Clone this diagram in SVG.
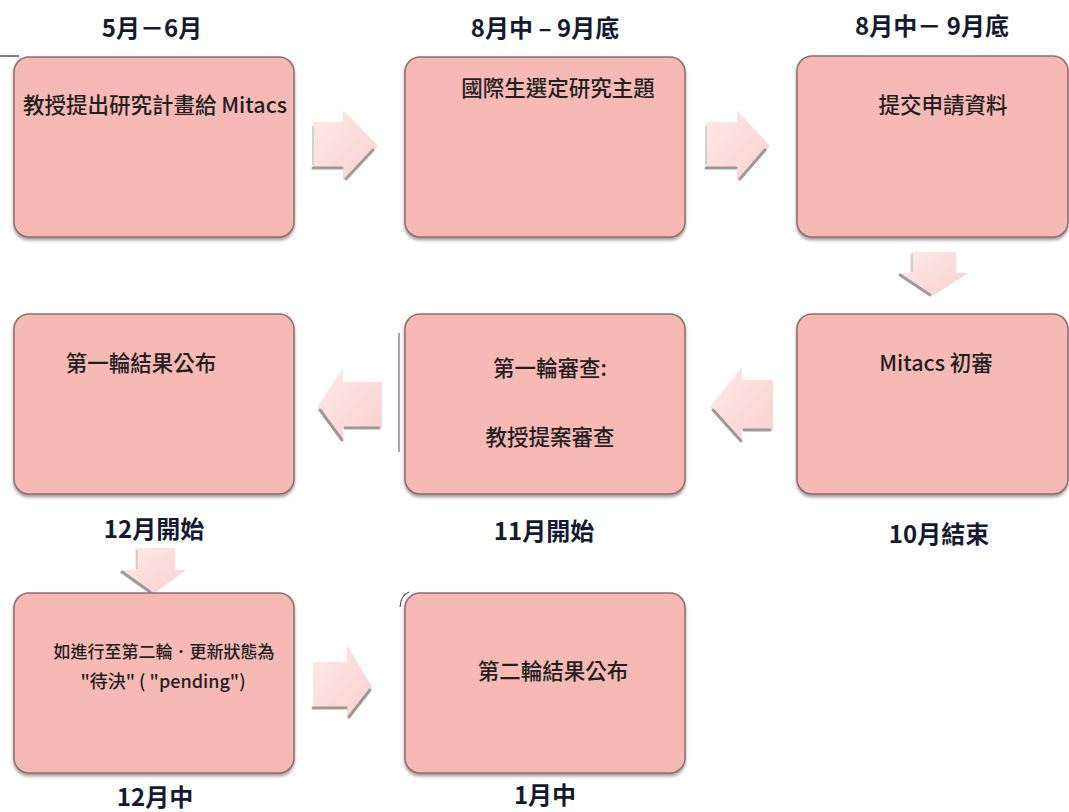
<svg xmlns="http://www.w3.org/2000/svg" width="1069" height="812" viewBox="0 0 1069 812">
<style>
.box{fill:#f7b9b5;stroke:#8a7070;stroke-width:1.5;filter:url(#sh)}
.t{font-family:"Noto Sans CJK TC","Noto Sans",sans-serif;font-size:21.5px;font-weight:500;fill:#231f1f;text-anchor:middle}
.lb{font-family:"Noto Sans CJK TC","Noto Sans",sans-serif;font-size:24px;font-weight:700;fill:#161a30;text-anchor:middle}
.ar{fill:url(#ag)}
.as{fill:none;stroke:#7d7d7d;stroke-width:3;stroke-linecap:round;opacity:.75}
.al{fill:none;stroke:#c8c8c8;stroke-width:2;opacity:.8}
</style>
<defs>
<filter id="sh" x="-5%" y="-5%" width="110%" height="115%">
<feDropShadow dx="0" dy="2.5" stdDeviation="1.5" flood-color="#5a4a4a" flood-opacity="0.55"/>
</filter>
<linearGradient id="ag" x1="0" y1="0" x2="1" y2="1">
<stop offset="0" stop-color="#fdeae8"/>
<stop offset="1" stop-color="#f9d0cd"/>
</linearGradient>
</defs>
<rect x="0" y="0" width="1069" height="812" fill="#ffffff"/>
<line x1="0" y1="56" x2="19" y2="56" stroke="#555" stroke-width="1.5"/>

<g id="connectors">
<g id="arrow-1-2">
<polygon class="ar" points="313,122 343,122 343,110 378,146 343,181 343,168 313,168"/>
<line class="al" x1="313" y1="126" x2="313" y2="165"/>
<polyline class="as" points="313,168 342,168"/>
<polyline class="as" points="346,179 373,150"/>
</g>
<g id="arrow-2-3">
<polygon class="ar" points="706,122 737,122 737,110 770,146 737,181 737,168 706,168"/>
<line class="al" x1="706" y1="126" x2="706" y2="165"/>
<polyline class="as" points="706,168 736,168"/>
<polyline class="as" points="740,179 765,150"/>
</g>
<g id="arrow-3-6">
<polygon class="ar" points="910,252 956,252 956,273 968,273 933,296 898,273 910,273"/>
<line class="al" x1="912" y1="254" x2="912" y2="272"/>
<polyline class="as" points="900,275 930,295"/>
</g>
<g id="arrow-6-5">
<polygon class="ar" points="773,380 742,380 742,367 710,407 742,443 742,430 773,430"/>
<polyline class="as" points="713,410 741,441"/>
<polyline class="as" points="744,430 770,430"/>
</g>
<g id="arrow-5-4">
<polygon class="ar" points="382,382 343,382 343,368 317,407 343,442 343,428 382,428"/>
<polyline class="as" points="320,410 342,440"/>
<polyline class="as" points="345,428 379,428"/>
</g>
<g id="arrow-4-7">
<polygon class="ar" points="135,548 175,548 175,570 186,570 153,594 120,570 135,570"/>
<line class="al" x1="137" y1="550" x2="137" y2="569"/>
<polyline class="as" points="122,572 150,592"/>
</g>
<g id="arrow-7-8">
<polygon class="ar" points="313,662 347,662 347,645 372,687 347,720 347,708 313,708"/>
<polyline class="as" points="313,708 346,708"/>
<polyline class="as" points="349,717 370,690"/>
</g>
</g>

<g id="node-1">
<rect class="box" x="14" y="57" width="280" height="180" rx="15"/>
<text class="t" x="155" y="113">教授提出研究計畫給 Mitacs</text>
</g>
<g id="node-2">
<rect class="box" x="405" y="57" width="280" height="180" rx="15"/>
<text class="t" x="558" y="96">國際生選定研究主題</text>
</g>
<g id="node-3">
<rect class="box" x="797" y="56" width="271" height="181" rx="15"/>
<text class="t" x="943" y="113">提交申請資料</text>
</g>
<g id="node-4">
<rect class="box" x="14" y="314" width="280" height="180" rx="15"/>
<text class="t" x="141" y="371">第一輪結果公布</text>
</g>
<g id="node-5">
<line x1="399" y1="333" x2="399" y2="452" stroke="#8a8a8a" stroke-width="1.5"/>
<rect class="box" x="405" y="314" width="280" height="180" rx="15"/>
<text class="t" x="550" y="376">第一輪審查:</text>
<text class="t" x="550" y="445">教授提案審查</text>
</g>
<g id="node-6">
<rect class="box" x="797" y="314" width="271" height="180" rx="15"/>
<text class="t" x="936" y="371">Mitacs 初審</text>
</g>
<g id="node-7">
<rect class="box" x="14" y="593" width="280" height="180" rx="15"/>
<text class="t" x="164" y="658" style="font-size:17px">如進行至第二輪．更新狀態為</text>
<text class="t" x="163" y="688" style="font-size:18px">"待決" ( "pending")</text>
</g>
<g id="node-8">
<path d="M400,607 Q401,595 409,592" fill="none" stroke="#555" stroke-width="1.2"/>
<rect class="box" x="405" y="593" width="280" height="180" rx="15"/>
<text class="t" x="553" y="679">第二輪結果公布</text>
</g>

<g id="labels">
<text class="lb" x="152" y="37">5月－6月</text>
<text class="lb" x="545" y="37">8月中 – 9月底</text>
<text class="lb" x="932" y="35">8月中－ 9月底</text>
<text class="lb" x="154" y="538">12月開始</text>
<text class="lb" x="544" y="540">11月開始</text>
<text class="lb" x="939" y="543">10月結束</text>
<text class="lb" x="155" y="806">12月中</text>
<text class="lb" x="545" y="804">1月中</text>
</g>
</svg>
